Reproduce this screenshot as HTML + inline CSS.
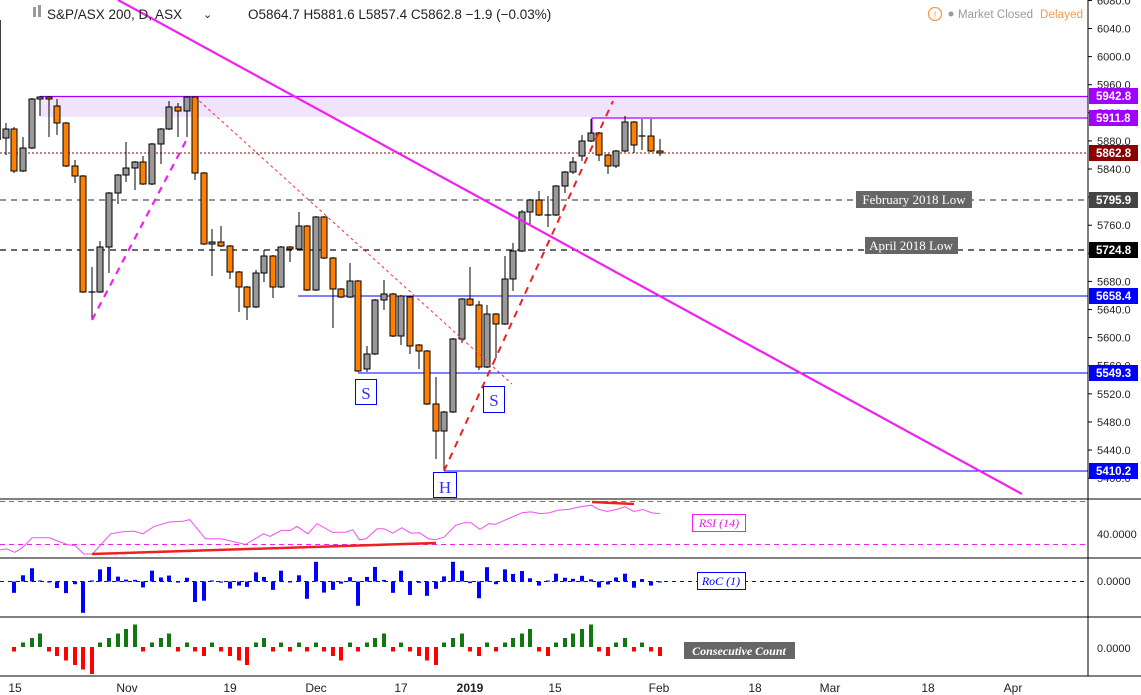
<!DOCTYPE html>
<html><head><meta charset="utf-8"><style>
html,body{margin:0;padding:0;background:#fff;width:1141px;height:695px;overflow:hidden}
svg{display:block;font-family:"Liberation Sans",sans-serif}
</style></head><body>
<svg id="s" width="1141" height="695" xmlns="http://www.w3.org/2000/svg">
<rect width="1141" height="695" fill="#fff"/>
<rect x="40" y="97" width="1048" height="20" fill="#f1e3fc"/>
<line x1="40" y1="96.5" x2="1088" y2="96.5" stroke="#a000ff" stroke-width="1.2"/>
<polyline points="592,133 592,118 1088,118" fill="none" stroke="#a000ff" stroke-width="1.2"/>
<line x1="0" y1="153" x2="1088" y2="153" stroke="#8b0000" stroke-width="1" stroke-dasharray="2,2"/>
<line x1="0" y1="200" x2="1088" y2="200" stroke="#555" stroke-width="1.2" stroke-dasharray="6,5"/>
<line x1="0" y1="250" x2="1088" y2="250" stroke="#111" stroke-width="1.2" stroke-dasharray="6,5"/>
<line x1="298" y1="296" x2="1088" y2="296" stroke="#0000ff" stroke-width="1"/>
<line x1="358" y1="373" x2="1088" y2="373" stroke="#0000ff" stroke-width="1"/>
<line x1="444" y1="471" x2="1088" y2="471" stroke="#0000ff" stroke-width="1"/>
<line x1="0" y1="20" x2="0" y2="140" stroke="#000" stroke-width="1.5"/>
<g id="candles"></g>
<line x1="118" y1="0" x2="1022" y2="494" stroke="#f020f0" stroke-width="2.2"/>
<line x1="92" y1="320" x2="188" y2="137" stroke="#f020f0" stroke-width="2.2" stroke-dasharray="7,6"/>
<line x1="195" y1="97" x2="512" y2="384" stroke="#ff3030" stroke-width="1" stroke-dasharray="3,3"/>
<line x1="444" y1="471" x2="613" y2="101" stroke="#ee2020" stroke-width="2" stroke-dasharray="7,6"/>
<g font-family="Liberation Serif,serif" font-size="13">
<rect x="856" y="191" width="116" height="17" fill="#666"/><text x="914" y="204" fill="#fff" text-anchor="middle">February 2018 Low</text>
<rect x="865" y="237" width="93" height="17" fill="#666"/><text x="911" y="250" fill="#fff" text-anchor="middle">April 2018 Low</text>
<rect x="355.5" y="379.5" width="21" height="25" fill="#fff" stroke="#0000ff"/><text x="366" y="399" fill="#3030ff" text-anchor="middle" font-size="17">S</text>
<rect x="483.5" y="386.5" width="21" height="26" fill="#fff" stroke="#0000ff"/><text x="494" y="406" fill="#3030ff" text-anchor="middle" font-size="17">S</text>
<rect x="433.5" y="472.5" width="23" height="25" fill="#fff" stroke="#0000ff"/><text x="445" y="493" fill="#3030ff" text-anchor="middle" font-size="17">H</text>
</g>
<line x1="0" y1="499" x2="1141" y2="499" stroke="#000"/>
<line x1="0" y1="558" x2="1141" y2="558" stroke="#000"/>
<line x1="0" y1="617" x2="1141" y2="617" stroke="#000"/>
<line x1="0" y1="676" x2="1141" y2="676" stroke="#000"/>
<line x1="1088" y1="0" x2="1088" y2="676" stroke="#000"/>
<line x1="0" y1="501.5" x2="1088" y2="501.5" stroke="#f020f0" stroke-dasharray="5,4"/>
<line x1="0" y1="544.5" x2="1088" y2="544.5" stroke="#f020f0" stroke-dasharray="5,4"/>
<polyline id="rsi" fill="none" stroke="#f050f0" stroke-width="1"/>
<line x1="92" y1="554" x2="436" y2="543" stroke="#ee2020" stroke-width="2.5"/>
<line x1="592" y1="502" x2="634" y2="504" stroke="#ee2020" stroke-width="2.5"/>
<line x1="0" y1="581.5" x2="1088" y2="581.5" stroke="#0000ff" stroke-dasharray="4,4"/>
<g id="roc"></g><g id="cc"></g>
<g font-family="Liberation Serif,serif" font-style="italic" font-size="12">
<rect x="692.5" y="514.5" width="53" height="17" fill="#fff" stroke="#f020f0"/><text x="719" y="527" fill="#e020e0" text-anchor="middle">RSI (14)</text>
<rect x="697.5" y="572.5" width="48" height="17" fill="#fff" stroke="#0000ff"/><text x="721" y="585" fill="#0000ff" text-anchor="middle">RoC (1)</text>
<rect x="684" y="642" width="111" height="17" fill="#666"/><text x="739" y="655" fill="#fff" text-anchor="middle" font-weight="bold">Consecutive Count</text>
</g>
<g id="ax" font-size="11" fill="#222"></g>
<g font-size="12" fill="#222">
<text x="15" y="692" text-anchor="middle">15</text><text x="127" y="692" text-anchor="middle">Nov</text>
<text x="230" y="692" text-anchor="middle">19</text><text x="316" y="692" text-anchor="middle">Dec</text>
<text x="401" y="692" text-anchor="middle">17</text><text x="470" y="692" text-anchor="middle" font-weight="bold">2019</text>
<text x="555" y="692" text-anchor="middle">15</text><text x="659" y="692" text-anchor="middle">Feb</text>
<text x="755" y="692" text-anchor="middle">18</text><text x="830" y="692" text-anchor="middle">Mar</text>
<text x="928" y="692" text-anchor="middle">18</text><text x="1013" y="692" text-anchor="middle">Apr</text>
</g>
<g font-size="13.5" fill="#222">
<rect x="33" y="7" width="3" height="10" fill="#999"/><rect x="38" y="5" width="3" height="12" fill="#999"/>
<text x="47" y="19">S&amp;P/ASX 200, D, ASX</text><text x="203" y="18" font-size="11">⌄</text>
<text x="248" y="19">O5864.7  H5881.6  L5857.4  C5862.8  −1.9 (−0.03%)</text>
<circle cx="935" cy="14" r="6.5" fill="none" stroke="#f59a50" stroke-width="1.3"/><text x="935" y="18.5" font-size="10" fill="#f59a50" text-anchor="middle">!</text>
<circle cx="951" cy="14" r="2.5" fill="#999"/>
<text x="958" y="18" fill="#999" font-size="11.5" textLength="75">Market Closed</text><text x="1040" y="18" fill="#f59a50" font-size="11.5" textLength="43">Delayed</text>
</g>
<g id="tags" font-size="11.5" font-weight="bold" fill="#fff"></g>
</svg>
<script>
var NS="http://www.w3.org/2000/svg";
function el(p,t,a,txt){var e=document.createElementNS(NS,t);for(var k in a)e.setAttribute(k,a[k]);if(txt!=null)e.textContent=txt;p.appendChild(e);return e;}
var C=[[6,129,138,123,155,'g'],[14,129,171,127,173,'o'],[23,148,171,137,172,'g'],[32,99,148,98,149,'g'],[40,97,99,96,116,'g'],[49,97,99,96,137,'o'],[57,106,123,99,135,'o'],[66,123,166,122,167,'o'],[75,166,176,160,183,'o'],[83,176,292,175,293,'o'],[92,292,292,267,320,'d'],[100,247,292,241,293,'g'],[109,193,247,192,273,'g'],[118,175,193,174,204,'g'],[126,168,175,142,182,'g'],[135,162,168,161,190,'g'],[143,162,184,156,185,'o'],[152,144,184,143,185,'g'],[161,129,144,128,164,'g'],[169,107,129,101,130,'g'],[178,107,111,103,137,'o'],[187,97,111,96,137,'g'],[195,97,173,96,180,'o'],[204,173,244,172,245,'o'],[212,242,244,229,276,'g'],[221,242,246,226,247,'o'],[230,246,272,245,279,'o'],[239,272,287,271,312,'o'],[247,287,307,286,320,'o'],[256,273,307,270,308,'g'],[264,256,273,250,282,'g'],[273,256,287,255,298,'o'],[281,247,287,246,288,'g'],[290,247,249,246,262,'o'],[299,226,249,212,250,'g'],[307,226,290,225,291,'o'],[316,217,290,216,291,'g'],[324,217,258,216,259,'o'],[333,258,289,257,328,'o'],[341,289,297,288,298,'o'],[350,281,297,263,298,'g'],[358,281,371,280,372,'o'],[367,354,369,346,372,'g'],[375,300,354,299,355,'g'],[384,294,300,280,310,'g'],[393,294,336,293,337,'o'],[401,296,336,295,345,'g'],[410,297,346,296,354,'o'],[419,345,351,344,369,'o'],[427,351,404,350,405,'o'],[436,404,431,377,459,'o'],[444,412,431,411,471,'g'],[453,339,412,338,413,'g'],[462,299,339,298,343,'g'],[470,299,305,267,306,'o'],[479,305,367,301,370,'o'],[487,314,367,305,368,'g'],[496,314,324,313,358,'o'],[505,279,324,256,325,'g'],[513,251,279,243,291,'g'],[522,212,251,210,252,'g'],[530,200,212,199,226,'g'],[539,200,215,191,216,'o'],[548,215,215,196,227,'d'],[556,186,215,185,216,'g'],[565,172,186,171,193,'g'],[573,162,172,157,174,'g'],[582,141,156,135,161,'g'],[591,133,141,119,142,'g'],[599,133,155,132,161,'o'],[608,155,166,154,174,'o'],[616,151,166,150,168,'g'],[625,122,151,116,152,'g'],[634,122,145,121,153,'o'],[642,136,136,119,150,'d'],[651,136,151,119,152,'o'],[660,151,153,139,156,'o']];
var g=document.getElementById('candles'),roc=document.getElementById('roc'),cc=document.getElementById('cc');
var prev=null,cnt=0;
C.forEach(function(c){
 el(g,'line',{x1:c[0],y1:c[3],x2:c[0],y2:c[4],stroke:'#000','stroke-width':1});
 if(c[5]=='d'){el(g,'line',{x1:c[0]-3.5,y1:c[1],x2:c[0]+3.5,y2:c[1],stroke:'#000','stroke-width':1.2});}
 else el(g,'rect',{x:c[0]-3,y:c[1],width:6,height:Math.max(c[2]-c[1],1.5),fill:c[5]=='g'?'#999':'#ff8000',stroke:'#000','stroke-width':1});
 var close=c[5]=='g'?c[1]:(c[5]=='o'?c[2]:c[1]);
 if(prev!==null){
  var d=(prev-close)*0.27; if(Math.abs(d)<1)d=d<0?-1:1; if(d>20)d=20;if(d<-32)d=-32;
  el(roc,'rect',{x:c[0]-2,y:d>0?581.5-d:581.5,width:4,height:Math.abs(d),fill:'#0000ff'});
  if(close<prev){cnt=cnt>0?cnt+1:1}else{cnt=cnt<0?cnt-1:-1}
  var h=Math.abs(cnt)*4.5;
  el(cc,'rect',{x:c[0]-2,y:cnt>0?647-h:647,width:4,height:h,fill:cnt>0?'#117711':'#ff0000'});
 }
 prev=close;
});
var R=[[0,178],[15,175],[33,185],[50,172],[72,142],[110,142],[150,162],[168,165],[188,190],[207,190],[248,130],[275,124],[300,122],[320,130],[345,108],[380,95],[410,93],[425,88],[460,145],[495,145],[550,162],[590,130],[605,138],[630,120],[650,120],[665,108],[690,130],[710,100],[745,126],[775,125],[790,118],[805,148],[820,145],[845,115],[860,115],[880,128],[900,112],[920,128],[940,127],[960,145],[975,148],[995,140],[1020,105],[1040,97],[1055,97],[1075,117],[1095,100],[1110,102],[1130,90],[1170,67],[1190,65],[1210,70],[1230,68],[1250,60],[1275,57],[1300,50],[1325,45],[1340,57],[1360,64],[1380,58],[1400,50],[1420,64],[1440,58],[1460,68],[1478,70]];
document.getElementById('rsi').setAttribute('points',R.map(function(p){return (p[0]/2.24).toFixed(1)+','+(490+p[1]/2.97).toFixed(1)}).join(' '));
var ax=document.getElementById('ax');
for(var p=5400;p<=6080;p+=40){var y=153+(5862.8-p)*0.7026;el(ax,'line',{x1:1088,y1:y,x2:1092,y2:y,stroke:'#000'});el(ax,'text',{x:1097,y:y+4},p.toFixed(1));}
el(ax,'text',{x:1097,y:538},'40.0000');el(ax,'text',{x:1097,y:585},'0.0000');el(ax,'text',{x:1097,y:652},'0.0000');
var T=[[96,'5942.8','#a000ff'],[118,'5911.8','#a000ff'],[153,'5862.8','#8b0000'],[200,'5795.9','#444'],[250,'5724.8','#000'],[296,'5658.4','#0000ff'],[373,'5549.3','#0000ff'],[471,'5410.2','#0000ff']];
var tg=document.getElementById('tags');
T.forEach(function(t){el(tg,'rect',{x:1089,y:t[0]-8,width:49,height:16,fill:t[2]});el(tg,'text',{x:1096,y:t[0]+4},t[1]);});
</script>
</body></html>
